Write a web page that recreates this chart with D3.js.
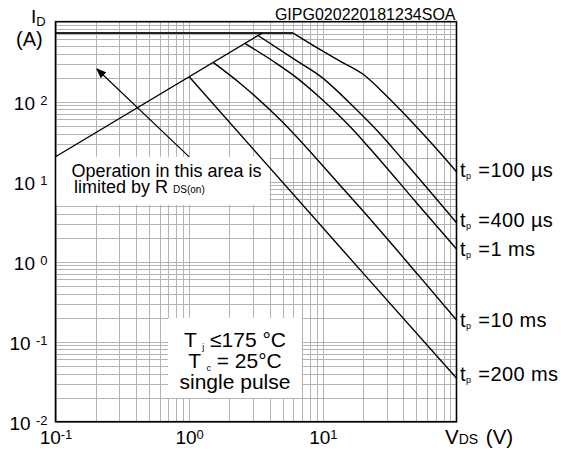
<!DOCTYPE html>
<html>
<head>
<meta charset="utf-8">
<script src="https://cdn.jsdelivr.net/npm/d3@7"></script>
<style>
  body { margin: 0; background: #fff; }
  svg { display: block; font-family: "Liberation Sans", Arial, sans-serif; }
  .grid line { stroke: #b3b3b3; stroke-width: 1; shape-rendering: crispEdges; }
  .grid .domain { display: none; }
</style>
</head>
<body>
<svg id="chart"></svg>
<script>
// safe operating area (V_DS in V, I_D in A)
const rdsOnLimit = [[0.1, 20.5], [3.51, 720]];
const currentLimit = [[0.1, 720], [6.0, 720]];
const tp100us = [[6.0, 720], [9.5, 450], [13.4, 322], [20, 220], [30, 118], [53, 44], [80, 20.5], [100, 13.3]];
const tp400us = [[3.29, 670], [6.18, 335], [9.51, 210], [16.9, 87], [26.7, 40], [38.8, 19.6], [100, 3.07]];
const tp1ms = [[2.61, 535], [4.26, 320], [6.0, 215], [9.5, 113], [16.9, 44.3], [22.5, 26], [50, 5.5], [100, 1.44]];
const tp10ms = [[1.51, 310], [2.4, 170], [4.78, 60], [13.4, 9.1], [20, 4.3], [53, 0.65], [100, 0.187]];
const tp200ms = [[1.0, 205], [20, 0.72], [100, 0.035]];

const pulseSeries = [tp100us, tp400us, tp1ms, tp10ms, tp200ms];
const pulseLabels = ['=100 µs', '=400 µs', '=1 ms', '=10 ms', '=200 ms'];

const xTickExps = [-1, 0, 1];
const yTickExps = [-2, -1, 0, 1, 2];
const xDomain = [0.1, 100];
const yDomain = [0.01, 1000];

const figureCode = 'GIPG020220181234SOA';
const conditionLines = [['T ', 'j', ' ≤175 °C'], ['T ', 'c', ' = 25°C'], ['single pulse', '', '']];

class SoaChart {
    constructor(_config) {
        this.config = {
            parentElement: _config.parentElement,
            containerWidth: _config.containerWidth || 561,
            containerHeight: _config.containerHeight || 450,
            margin: _config.margin || { top: 21.7, right: 104.5, bottom: 28.3, left: 55.5 }
        };
        this.initVis();
    }

    initVis() {
        let vis = this;

        vis.width = vis.config.containerWidth - vis.config.margin.left - vis.config.margin.right;
        vis.height = vis.config.containerHeight - vis.config.margin.top - vis.config.margin.bottom;

        vis.xScale = d3.scaleLog().domain(xDomain).range([0, vis.width]);
        vis.yScale = d3.scaleLog().domain(yDomain).range([vis.height, 0]);

        vis.svg = d3.select(vis.config.parentElement)
            .attr('width', vis.config.containerWidth)
            .attr('height', vis.config.containerHeight);

        vis.svg.append('defs').append('marker')
            .attr('id', 'arrow')
            .attr('viewBox', '0 0 10 8')
            .attr('refX', 9)
            .attr('refY', 4)
            .attr('markerWidth', 11)
            .attr('markerHeight', 8)
            .attr('markerUnits', 'userSpaceOnUse')
            .attr('orient', 'auto')
            .append('path')
            .attr('d', 'M0,0 L10,4 L0,8 Z')
            .attr('fill', '#000');

        vis.chart = vis.svg.append('g')
            .attr('transform', `translate(${vis.config.margin.left},${vis.config.margin.top})`);

        vis.renderVis();
    }

    renderVis() {
        let vis = this;
        const x = vis.xScale, y = vis.yScale;

        // log grid, 1..9 per decade
        const minorX = d3.range(-1, 2).flatMap(e => d3.range(1, 10).map(m => m * 10 ** e));
        const minorY = d3.range(-2, 3).flatMap(e => d3.range(1, 10).map(m => m * 10 ** e));

        vis.chart.append('g')
            .attr('class', 'grid')
            .attr('transform', `translate(0,${vis.height})`)
            .call(d3.axisBottom(x).tickValues(minorX).tickSize(-vis.height).tickFormat(''));

        vis.chart.append('g')
            .attr('class', 'grid')
            .call(d3.axisLeft(y).tickValues(minorY).tickSize(-vis.width).tickFormat(''));

        // white note boxes hide the grid underneath
        const opBox = { x0: 0.1, x1: 4.0, y0: 20.5, y1: 5.1 };
        const condBox = { x0: 0.694, x1: 6.98, y0: 0.198, y1: 0.0198 };
        [opBox, condBox].forEach(b => {
            vis.chart.append('rect')
                .attr('x', x(b.x0))
                .attr('y', y(b.y0))
                .attr('width', x(b.x1) - x(b.x0))
                .attr('height', y(b.y1) - y(b.y0))
                .attr('fill', '#fff');
        });

        const line = d3.line()
            .x(d => x(d[0]))
            .y(d => y(d[1]))
            .curve(d3.curveMonotoneX);

        vis.chart.append('path')
            .datum(currentLimit)
            .attr('d', line)
            .attr('fill', 'none')
            .attr('stroke', '#222')
            .attr('stroke-width', 2);

        vis.chart.append('path')
            .datum(rdsOnLimit)
            .attr('d', line)
            .attr('fill', 'none')
            .attr('stroke', '#000')
            .attr('stroke-width', 1.4);

        vis.chart.selectAll('.pulse')
            .data(pulseSeries)
            .join('path')
            .attr('class', 'pulse')
            .attr('d', line)
            .attr('fill', 'none')
            .attr('stroke', '#000')
            .attr('stroke-width', 1.4);

        // arrow pointing into the R_DS(on) limited region
        vis.chart.append('line')
            .attr('x1', x(1.0))
            .attr('y1', y(20.4))
            .attr('x2', x(0.204))
            .attr('y2', y(256))
            .attr('stroke', '#000')
            .attr('stroke-width', 1.2)
            .attr('marker-end', 'url(#arrow)');

        // frame
        vis.chart.append('rect')
            .attr('width', vis.width)
            .attr('height', vis.height)
            .attr('fill', 'none')
            .attr('stroke', '#000')
            .attr('stroke-width', 1.6);

        // tick labels
        const xLabels = vis.chart.append('g')
            .attr('transform', `translate(0,${vis.height})`)
            .call(d3.axisBottom(x).tickValues(xTickExps.map(e => 10 ** e)).tickSize(0).tickFormat(''));
        xLabels.select('.domain').remove();
        xLabels.attr('font-size', null).attr('font-family', null);
        const xt = xLabels.selectAll('.tick').append('text')
            .attr('y', 22.5)
            .attr('fill', '#000')
            .attr('text-anchor', 'middle')
            .style('font-size', '19px');
        xt.append('tspan').text('10');
        xt.append('tspan')
            .attr('dy', -5.5)
            .style('font-size', '13px')
            .text((d, i) => xTickExps[i]);

        const yLabels = vis.chart.append('g')
            .call(d3.axisLeft(y).tickValues(yTickExps.map(e => 10 ** e)).tickSize(0).tickFormat(''));
        yLabels.select('.domain').remove();
        yLabels.attr('font-size', null).attr('font-family', null);
        const yt = yLabels.selectAll('.tick').append('text')
            .attr('x', -8)
            .attr('y', 7.5)
            .attr('fill', '#000')
            .attr('text-anchor', 'end')
            .style('font-size', '19px');
        yt.append('tspan').text('10 ');
        yt.append('tspan')
            .attr('dy', -4.5)
            .style('font-size', '13px')
            .text((d, i) => yTickExps[i]);

        // pulse width labels at the right edge
        const labelDy = [5.5, 4.5, 7, 7, 2.5];
        const lbl = vis.chart.selectAll('.pulse-label')
            .data(pulseSeries)
            .join('text')
            .attr('class', 'pulse-label')
            .attr('x', vis.width + 3.5)
            .attr('y', (d, i) => y(d[d.length - 1][1]) + labelDy[i])
            .style('font-size', '20px')
            .style('letter-spacing', '0.4px');
        lbl.append('tspan').text('t');
        lbl.append('tspan').attr('dy', 2).style('font-size', '9px').text('p');
        lbl.append('tspan').attr('dy', -2).attr('dx', 1).text((d, i) => ' ' + pulseLabels[i]);

        // R_DS(on) note
        const opText = vis.chart.append('g')
            .attr('transform', `translate(${x(opBox.x0) + 16},${y(opBox.y0)})`)
            .style('font-size', '18px');
        opText.append('text').attr('y', 20).text('Operation in this area is');
        const op2 = opText.append('text').attr('x', 2.5).attr('y', 36.5);
        op2.append('tspan').text('limited by R ');
        op2.append('tspan').style('font-size', '10px').text('DS(on)');

        // test conditions
        const cx = (x(condBox.x0) + x(condBox.x1)) / 2;
        const cond = vis.chart.selectAll('.cond')
            .data(conditionLines)
            .join('text')
            .attr('class', 'cond')
            .attr('x', cx)
            .attr('y', (d, i) => y(condBox.y0) + 29 + i * 21)
            .attr('text-anchor', 'middle')
            .style('font-size', '21px');
        cond.append('tspan').text(d => d[0]);
        cond.append('tspan').attr('dy', 3).style('font-size', '9px').text(d => d[1]);
        cond.append('tspan').attr('dy', -3).text(d => d[2]);

        // axis titles
        const yTitle = vis.svg.append('text')
            .attr('x', 31)
            .attr('y', 23)
            .style('font-size', '19px');
        yTitle.append('tspan').text('I');
        yTitle.append('tspan').attr('dy', 3).style('font-size', '13px').text('D');
        vis.svg.append('text')
            .attr('x', 16)
            .attr('y', 46)
            .style('font-size', '20px')
            .text('(A)');

        const xTitle = vis.svg.append('text')
            .attr('x', 445)
            .attr('y', 444)
            .style('font-size', '20.5px');
        xTitle.append('tspan').text('V');
        xTitle.append('tspan').style('font-size', '14px').text('DS');
        xTitle.append('tspan').attr('dx', 2).text(' (V)');

        vis.svg.append('text')
            .attr('x', vis.config.margin.left + vis.width - 1)
            .attr('y', 19.5)
            .attr('text-anchor', 'end')
            .style('font-size', '16px')
            .text(figureCode);
    }
}

new SoaChart({ parentElement: '#chart' });
</script>
</body>
</html>
